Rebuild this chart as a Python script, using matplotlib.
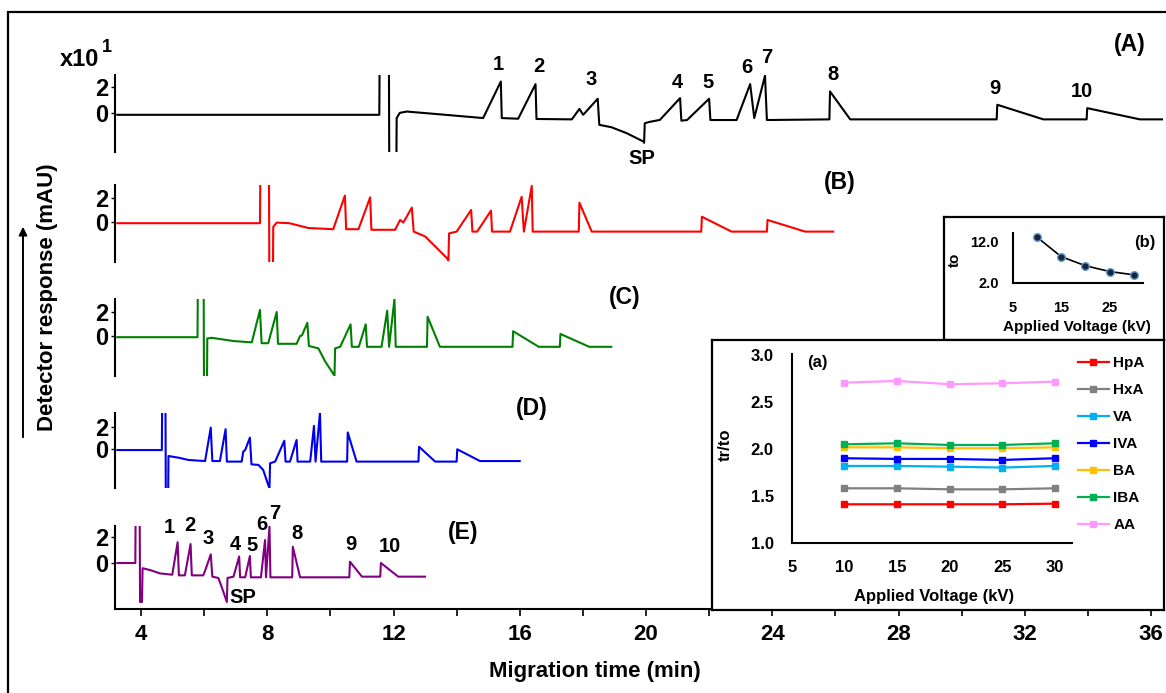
import matplotlib
matplotlib.use('Agg')
import matplotlib.pyplot as plt
from matplotlib.patches import FancyArrowPatch, Rectangle

plt.rcParams['font.family'] = ['Liberation Sans', 'DejaVu Sans']
plt.rcParams['font.weight'] = 'bold'
plt.rcParams['axes.labelweight'] = 'bold'

W, H = 1166, 693

# ---- electropherogram break points: migration time (min), response (mAU) ----
time_A = [3.25, 11.55, 11.57, 11.85, 11.87, 12.08, 12.10, 12.2, 12.42, 13.4, 14.84,
          15.40, 15.43, 15.95, 16.50, 16.53, 17.65, 17.89, 18.01, 18.47, 18.52,
          18.9, 19.39, 19.92, 19.94, 19.96, 20.1, 20.44, 21.08, 21.12, 21.3,
          22.0, 22.04, 22.87, 23.30, 23.43, 23.77, 23.83, 25.81, 25.83, 26.47,
          31.11, 31.13, 32.59, 33.96, 33.98, 35.65, 36.38]
resp_A = [-0.15, -0.15, 8, 8, -8, -8, -0.4, 0.0, 0.1, -0.1, -0.4,
          2.4, -0.4, -0.45, 2.2, -0.47, -0.5, 0.3, -0.15, 1.08, -0.92,
          -1.1, -1.56, -2.2, -2.3, -0.8, -0.7, -0.54, 1.13, -0.6, -0.55,
          1.08, -0.55, -0.55, 2.2, -0.4, 2.85, -0.55, -0.5, 1.64, -0.5,
          -0.5, 0.62, -0.5, -0.5, 0.36, -0.5, -0.5]

time_B = [3.25, 7.77, 7.79, 8.05, 8.07, 8.17, 8.19, 8.3, 8.7, 9.3, 10.09,
          10.46, 10.5, 10.89, 11.26, 11.3, 12.05, 12.21, 12.31, 12.58, 12.64,
          13.0, 13.27, 13.69, 13.74, 13.76, 14.0, 14.46, 14.5, 14.65, 15.09,
          15.12, 15.69, 16.06, 16.13, 16.38, 16.41, 17.87, 17.89, 18.28, 21.75,
          21.77, 22.71, 23.83, 23.85, 25.04, 25.93]
resp_B = [-0.1, -0.1, 8, 8, -8, -8, -0.4, -0.05, -0.1, -0.5, -0.6,
          2.2, -0.6, -0.6, 2.05, -0.65, -0.65, 0.17, -0.05, 1.2, -0.8,
          -1.2, -1.9, -3.0, -3.2, -0.95, -0.8, 1.0, -0.8, -0.8, 0.95,
          -0.8, -0.8, 2.1, -0.8, 3.0, -0.8, -0.8, 1.6, -0.8, -0.8,
          0.44, -0.8, -0.8, 0.17, -0.8, -0.8]

time_C = [3.25, 5.79, 5.81, 5.98, 6.0, 6.08, 6.1, 6.24, 6.93, 7.51, 7.77,
          7.82, 8.03, 8.30, 8.34, 8.93, 9.04, 9.1, 9.27, 9.32, 9.62,
          9.83, 10.13, 10.15, 10.31, 10.64, 10.68, 10.9, 11.12, 11.16, 11.62,
          11.80, 11.86, 12.03, 12.07, 13.06, 13.08, 13.47, 15.77, 15.79, 16.6,
          17.27, 17.29, 18.2, 18.9]
resp_C = [-0.1, -0.1, 8, 8, -8, -8, -0.2, -0.15, -0.42, -0.53, 2.17,
          -0.6, -0.6, 2.0, -0.65, -0.65, 0.0, 0.05, 1.1, -0.83, -1.03,
          -2.1, -3.3, -1.03, -0.9, 0.97, -0.9, -0.9, 0.97, -0.9, -0.9,
          2.1, -0.9, 3.08, -0.9, -0.9, 1.6, -0.9, -0.9, 0.4, -0.9,
          -0.9, 0.17, -0.9, -0.9]

time_D = [3.25, 4.66, 4.68, 4.77, 4.79, 4.85, 4.87, 5.2, 5.5, 6.03, 6.21,
          6.26, 6.5, 6.68, 6.72, 7.19, 7.24, 7.3, 7.45, 7.50, 7.72,
          7.87, 8.07, 8.09, 8.25, 8.54, 8.58, 8.72, 8.93, 8.96, 9.36,
          9.48, 9.53, 9.67, 9.71, 10.53, 10.55, 10.83, 12.79, 12.81, 13.32,
          14.0, 14.02, 14.74, 16.0]
resp_D = [-0.1, -0.1, 8, 8, -8, -8, -0.64, -0.8, -1.0, -1.1, 1.94,
          -1.1, -1.1, 1.8, -1.15, -1.15, -0.24, -0.1, 1.03, -1.4, -1.45,
          -1.9, -3.6, -1.3, -1.15, 0.75, -1.15, -1.15, 0.82, -1.15, -1.15,
          2.1, -1.15, 3.3, -1.15, -1.15, 1.5, -1.15, -1.15, 0.2, -1.15,
          -1.15, -0.03, -1.1, -1.1]

time_E = [3.25, 3.82, 3.84, 3.95, 3.97, 4.03, 4.05, 4.3, 4.6, 4.99, 5.16,
          5.2, 5.39, 5.57, 5.61, 5.97, 6.03, 6.21, 6.26, 6.45, 6.55,
          6.72, 6.74, 6.93, 7.11, 7.14, 7.3, 7.45, 7.48, 7.80, 7.93,
          7.96, 8.07, 8.10, 8.79, 8.81, 9.04, 10.60, 10.62, 11.0, 11.58,
          11.60, 12.15, 13.0]
resp_E = [0.0, 0.0, 8, 8, -3.0, -3.0, -0.4, -0.55, -0.8, -0.9, 1.6,
          -0.95, -0.95, 1.46, -0.95, -0.95, -0.6, 0.67, -1.05, -1.15, -1.8,
          -3.0, -1.15, -1.05, 0.5, -1.1, -1.1, 0.54, -1.1, -1.1, 1.77,
          -1.1, 2.8, -1.1, -1.1, 1.25, -1.1, -1.1, 0.1, -1.05, -1.05,
          0.0, -1.05, -1.05]

# ---- inset data ----
voltage = [10, 15, 20, 25, 30]
t0_min = [13.0, 8.3, 6.1, 4.7, 3.9]

acids = ['HpA', 'HxA', 'VA', 'IVA', 'BA', 'IBA', 'AA']
acid_colors = ['#FF0000', '#808080', '#00B0F0', '#0000FF', '#FFC000', '#00B050', '#FF99FF']
ratio = {
    'HpA': [1.414, 1.414, 1.414, 1.414, 1.421],
    'HxA': [1.584, 1.584, 1.573, 1.573, 1.584],
    'VA':  [1.821, 1.821, 1.814, 1.804, 1.821],
    'IVA': [1.903, 1.896, 1.896, 1.885, 1.903],
    'BA':  [2.019, 2.019, 2.009, 2.009, 2.019],
    'IBA': [2.051, 2.062, 2.044, 2.044, 2.062],
    'AA':  [2.706, 2.724, 2.689, 2.699, 2.717],
}


def fx(px):
    return px / W


def fy(py):
    return 1 - py / H


fig = plt.figure(figsize=(W / 100, H / 100), dpi=100)

# outer frame (top and left edges visible)
fig.add_artist(Rectangle((fx(8), fy(760)), 1.2, fy(12) - fy(760),
                         transform=fig.transFigure, fill=False,
                         edgecolor='black', linewidth=1.6))

traces = [
    ('A', time_A, resp_A, 'black', 75, 152, (-3.0, 2.9)),
    ('B', time_B, resp_B, '#FF0000', 185, 262, (-3.33, 3.08)),
    ('C', time_C, resp_C, '#008000', 299, 376, (-3.33, 3.08)),
    ('D', time_D, resp_D, '#0000EE', 413, 488, (-3.55, 3.27)),
    ('E', time_E, resp_E, '#800080', 526, 609, (-3.54, 2.85)),
]
x_left, x_right = 3.176, 36.38

axes = {}
for name, t, r, col, top, bot, ylim in traces:
    ax = fig.add_axes([fx(115), fy(bot), fx(1163) - fx(115), (bot - top) / H])
    ax.plot(t, r, color=col, linewidth=1.5)
    ax.set_xlim(x_left, x_right)
    ax.set_ylim(*ylim)
    ax.patch.set_visible(False)
    for s in ['top', 'right']:
        ax.spines[s].set_visible(False)
    ax.spines['left'].set_linewidth(1.5)
    ax.set_yticks([0, 2])
    ax.set_yticklabels(['0', '2'])
    ax.tick_params(axis='y', labelsize=17, length=3, width=1, pad=2)
    if name != 'E':
        ax.spines['bottom'].set_visible(False)
        ax.set_xticks([])
    axes[name] = ax

axE = axes['E']
axE.spines['bottom'].set_linewidth(1.5)
axE.set_xticks(range(4, 37, 4))
axE.set_xticks(range(4, 37, 2), minor=True)
axE.tick_params(axis='x', which='both', direction='out', length=5, width=1.2)
axE.tick_params(axis='x', which='major', labelsize=16, pad=6)

# peak labels
labels_A = [('1', 15.32, 3.69), ('2', 16.61, 3.52), ('3', 18.25, 2.59),
            ('4', 20.99, 2.33), ('5', 21.98, 2.33), ('6', 23.19, 3.44),
            ('7', 23.83, 4.21), ('8', 25.94, 2.92), ('9', 31.06, 1.90),
            ('10', 33.81, 1.64), ('SP', 19.86, -3.48)]
labels_E = [('1', 4.89, 2.77), ('2', 5.55, 2.92), ('3', 6.12, 1.92),
            ('4', 6.98, 1.46), ('5', 7.52, 1.38), ('6', 7.83, 3.0),
            ('7', 8.25, 3.85), ('8', 8.94, 2.31), ('9', 10.65, 1.46),
            ('10', 11.89, 1.31), ('SP', 7.22, -2.69)]
for txt, x, y in labels_A:
    axes['A'].text(x, y, txt, ha='center', va='center', fontsize=14.5)
for txt, x, y in labels_E:
    axE.text(x, y, txt, ha='center', va='center', fontsize=14.5)

for txt, px, py in [('(A)', 1130, 44), ('(B)', 840, 182), ('(C)', 625, 298),
                    ('(D)', 532, 409), ('(E)', 463, 533)]:
    fig.text(fx(px), fy(py), txt, ha='center', va='center', fontsize=16.5)

fig.text(fx(80), fy(59), 'x10', ha='center', va='center', fontsize=17)
fig.text(fx(107), fy(47), '1', ha='center', va='center', fontsize=13)

fig.text(fx(48), fy(297), 'Detector response (mAU)', rotation=90,
         ha='center', va='center', fontsize=16)
fig.add_artist(FancyArrowPatch((fx(23), fy(440)), (fx(23), fy(224)),
                               transform=fig.transFigure, arrowstyle='-|>',
                               mutation_scale=12, linewidth=1.4, color='black'))
fig.text(fx(595), fy(672), 'Migration time (min)', ha='center', va='center',
         fontsize=16)

# ---- inset boxes ----
def box(x0, y0, x1, y1):
    b = fig.add_axes([fx(x0), fy(y1), fx(x1) - fx(x0), (y1 - y0) / H], zorder=3)
    b.set_xticks([])
    b.set_yticks([])
    b.set_facecolor('white')
    for s in b.spines.values():
        s.set_linewidth(1.6)
    return b


box(944, 217, 1164, 340)
box(712, 340, 1164, 610)

# inset (b): to vs voltage
axb = fig.add_axes([fx(1012.7), fy(282.7), fx(1143) - fx(1012.7), (282.7 - 233) / H],
                   zorder=4)
axb.patch.set_visible(False)
axb.plot(voltage, t0_min, color='black', linewidth=1.2, marker='o',
         markersize=5.5, markerfacecolor='#1C2536', markeredgecolor='#5B9BD5',
         markeredgewidth=1.0)
axb.set_xlim(5, 31.9)
axb.set_ylim(2, 14)
axb.set_xticks([5, 15, 25])
axb.set_yticks([2, 12])
axb.set_yticklabels(['2.0', '12.0'])
axb.tick_params(length=0, labelsize=10.5)
axb.tick_params(axis='x', pad=13)
axb.tick_params(axis='y', pad=10)
for s in ['top', 'right']:
    axb.spines[s].set_visible(False)
axb.spines['left'].set_linewidth(1.5)
axb.spines['bottom'].set_linewidth(1.5)
fig.text(fx(955), fy(260), 'to', rotation=90, ha='center', va='center', fontsize=11)
fig.text(fx(1145), fy(243), '(b)', ha='center', va='center', fontsize=12)
fig.text(fx(1077), fy(327), 'Applied Voltage (kV)', ha='center', va='center',
         fontsize=11)

# inset (a): tr/to vs voltage
axa = fig.add_axes([fx(791.7), fy(543.3), fx(1071.7) - fx(791.7), (543.3 - 354) / H],
                   zorder=4)
axa.patch.set_visible(False)
for name, col in zip(acids, acid_colors):
    axa.plot(voltage, ratio[name], color=col, linewidth=1.6, marker='s',
             markersize=4.5, label=name)
axa.set_xlim(5, 31.6)
axa.set_ylim(1.0, 3.01)
axa.set_xticks([5, 10, 15, 20, 25, 30])
axa.set_yticks([1.0, 1.5, 2.0, 2.5, 3.0])
axa.set_yticklabels(['1.0', '1.5', '2.0', '2.5', '3.0'])
axa.tick_params(length=0, labelsize=12)
axa.tick_params(axis='x', pad=12)
axa.tick_params(axis='y', pad=13)
for s in ['top', 'right']:
    axa.spines[s].set_visible(False)
axa.spines['left'].set_linewidth(1.5)
axa.spines['bottom'].set_linewidth(1.5)
axa.legend(loc='upper left', bbox_to_anchor=(fx(1078), fy(356)),
           bbox_transform=fig.transFigure, frameon=False, fontsize=11,
           handlelength=2.0, handletextpad=0.3, labelspacing=0.85,
           borderpad=0, borderaxespad=0)
fig.text(fx(725), fy(445), 'tr/to', rotation=90, ha='center', va='center', fontsize=12)
fig.text(fx(817), fy(363), '(a)', ha='center', va='center', fontsize=12)
fig.text(fx(934), fy(597), 'Applied Voltage (kV)', ha='center', va='center',
         fontsize=12)

fig.savefig('out.png', dpi=100)
